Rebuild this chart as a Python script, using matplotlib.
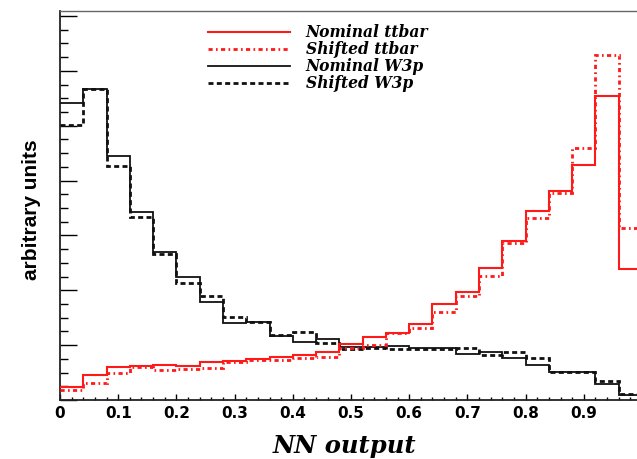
import numpy as np
import matplotlib
matplotlib.use("Agg")
import matplotlib.pyplot as plt
from matplotlib.ticker import MultipleLocator

# ---- data (arbitrary units, 25 bins of width 0.04 in NN output) ----
nn_bins = np.linspace(0.0, 1.0, 26)

nominal_ttbar = [0.237, 0.455, 0.601, 0.619, 0.638, 0.619, 0.692, 0.710, 0.747,
                 0.783, 0.820, 0.874, 1.020, 1.148, 1.220, 1.384, 1.749, 1.967,
                 2.404, 2.896, 3.443, 3.807, 4.281, 5.537, 2.386]
shifted_ttbar = [0.182, 0.310, 0.492, 0.601, 0.546, 0.565, 0.583, 0.692, 0.729,
                 0.729, 0.765, 0.783, 0.947, 1.002, 1.220, 1.311, 1.603, 1.894,
                 2.259, 2.860, 3.315, 3.770, 4.590, 6.284, 3.133]
nominal_w3p = [5.410, 5.665, 4.444, 3.424, 2.696, 2.240, 1.785, 1.403, 1.421,
               1.166, 1.056, 1.111, 0.965, 0.965, 0.984, 0.947, 0.947, 0.838,
               0.874, 0.765, 0.638, 0.510, 0.510, 0.291, 0.091]
shifted_w3p = [5.009, 5.665, 4.262, 3.333, 2.659, 2.131, 1.894, 1.512, 1.421,
               1.184, 1.239, 1.038, 0.929, 0.947, 0.929, 0.929, 0.929, 0.947,
               0.820, 0.874, 0.765, 0.510, 0.510, 0.346, 0.109]

labels = ["Nominal ttbar", "Shifted ttbar", "Nominal W3p", "Shifted W3p"]
xtick_values = [0.0, 0.1, 0.2, 0.3, 0.4, 0.5, 0.6, 0.7, 0.8, 0.9]
xtick_labels = ["0", "0.1", "0.2", "0.3", "0.4", "0.5", "0.6", "0.7", "0.8", "0.9"]

W, H = 637, 459
fig = plt.figure(figsize=(W / 100, H / 100), dpi=100)
fig.patch.set_facecolor("white")
ax = fig.add_axes([60 / W, 59 / H, 582 / W, 389 / H])

red = "#ff1a1a"
ax.stairs(nominal_ttbar, nn_bins, baseline=None, color=red, lw=1.5,
          label=labels[0], zorder=4)
ax.stairs(shifted_ttbar, nn_bins, baseline=None, color=red, lw=2.0,
          linestyle=(0, (1.5, 1.2, 0.6, 1.2)), label=labels[1], zorder=5)
ax.stairs(nominal_w3p, nn_bins, baseline=None, color="#111111", lw=1.3,
          label=labels[2], zorder=3)
ax.stairs(shifted_w3p, nn_bins, baseline=None, color="#111111", lw=2.0,
          linestyle=(0, (1.8, 1.2)), label=labels[3], zorder=3)

ax.set_xlim(0, 1.0)
ax.set_ylim(0, 7.09)

ax.set_xticks(xtick_values)
ax.set_xticklabels(xtick_labels, fontfamily="DejaVu Sans",
                   fontweight="bold", fontsize=11)
ax.xaxis.set_minor_locator(MultipleLocator(0.02))
ax.yaxis.set_major_locator(MultipleLocator(1.0))
ax.yaxis.set_minor_locator(MultipleLocator(0.25))
ax.set_yticklabels([])
ax.tick_params(axis="x", which="major", direction="in", length=4.5, width=1,
               pad=4, top=False)
ax.tick_params(axis="x", which="minor", direction="in", length=2.5, width=1,
               top=False)
ax.tick_params(axis="y", which="major", direction="in", length=12, width=1,
               right=False, labelleft=False)
ax.tick_params(axis="y", which="minor", direction="in", length=6, width=1,
               right=False)

for s in ("left", "bottom"):
    ax.spines[s].set_linewidth(1.3)
    ax.spines[s].set_color("#222222")
ax.spines["top"].set_linewidth(1.0)
ax.spines["top"].set_color("#666666")
ax.spines["right"].set_visible(False)

fig.text(344 / W, 1 - 446 / H, "NN output", family="DejaVu Serif",
         weight="bold", style="italic", fontsize=17.5, ha="center", va="center")
ax.set_ylabel("arbitrary units", fontfamily="Liberation Sans",
              fontweight="bold", fontsize=15)
ax.yaxis.set_label_coords(-0.032, 0.49)

leg = ax.legend(loc="upper left",
                bbox_to_anchor=((208 - 60) / 582 - 0.011, 1 - 7 / 389),
                frameon=False, handlelength=5.3, handletextpad=1.0,
                labelspacing=0.0, borderaxespad=0,
                prop={"family": "DejaVu Serif", "weight": "bold",
                      "style": "italic", "size": 11.2})

fig.savefig("out.png", dpi=100, facecolor="white")
